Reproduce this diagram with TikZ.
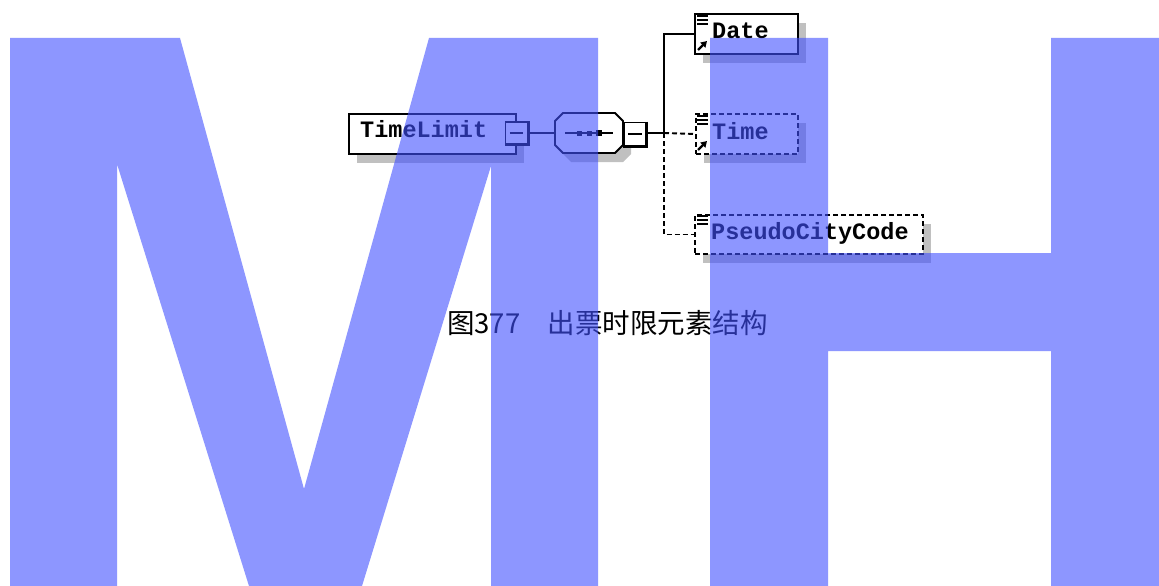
\documentclass[tikz,border=0pt]{standalone}
\usepackage{fontspec}
\newfontfamily\elemfont{Liberation Mono}
\newfontfamily\cjk{Noto Sans CJK SC}
\usetikzlibrary{shadows,calc,arrows.meta}
\definecolor{wm}{RGB}{65,80,255}
\definecolor{shd}{RGB}{192,192,192}
\begin{document}
\begin{tikzpicture}[x=1pt,y=-1pt,
  elem/.style={rectangle, draw=black, line width=2pt, fill=white, inner sep=0pt, anchor=north west,
    drop shadow={shadow xshift=8pt, shadow yshift=-9pt, fill=shd, opacity=1}},
  optelem/.style={elem, dash pattern=on 5pt off 3pt},
  minusbox/.style={rectangle, draw=black, line width=1.8pt, fill=white, inner sep=0pt, minimum width=22pt, minimum height=22pt},
  conn/.style={draw=black, line width=1.9pt},
  optconn/.style={conn, dash pattern=on 5pt off 3pt},
  lbl/.style={inner sep=0pt, anchor=base west, font=\elemfont\bfseries\fontsize{23.5}{24}\selectfont},
  linesicon/.pic={\draw[line width=1.7pt] (0,0)--(11,0) (0,4)--(11,4) (0,8)--(11,8);},
  arrowicon/.pic={\draw[line width=2.2pt,-{Triangle[length=6pt,width=7pt]}] (0,0)--(9,-9);},
  wmark/.style={fill=wm, fill opacity=0.6}
]
\useasboundingbox (0,0) rectangle (1159,586);
\fill[white] (0,0) rectangle (1159,586);

% root element
\node[elem, minimum width=167pt, minimum height=40pt] (tl) at (348,113) {};
\node[lbl] (tltext) at (360,137.5) {TimeLimit};
\node[minusbox] (mb1) at (516.5,133) {};
\draw[line width=2.8pt] (mb1.north east) -- (mb1.south east) -- (mb1.south west);
\draw[line width=1.6pt] ($(mb1.west)!0.22!(mb1.east)$) -- ($(mb1.west)!0.78!(mb1.east)$);

% sequence compositor
\fill[shd] (571,122) -- (623,122) -- (631,130) -- (631,154) -- (623,162) -- (571,162) -- (563,154) -- (563,130) -- cycle;
\node[minimum width=68pt, minimum height=40pt, inner sep=0pt] (seq) at (589,133) {};
\draw[line width=1.8pt, fill=white] (563,113) -- (615,113) -- (623,121) -- (623,145) -- (615,153) -- (563,153) -- (555,145) -- (555,121) -- cycle;
\draw[line width=1.6pt] (565,133) -- (613,133);
\fill[black] (576.5,130.5) rectangle (581.5,135.5);
\fill[black] (586.5,130.5) rectangle (591.5,135.5);
\fill[black] (596,130) rectangle (602,136);
\node[minusbox, minimum height=23pt] (mb2) at (635,134) {};
\draw[line width=3pt] (mb2.north east) -- (mb2.south east) -- (mb2.south west);
\draw[line width=1.6pt] ($(mb2.west)!0.22!(mb2.east)$) -- ($(mb2.west)!0.78!(mb2.east)$);

% child elements
\node[elem, minimum width=103pt, minimum height=40pt] (date) at (694,13) {};
\node[lbl] (datetext) at (712,38.5) {Date};
\pic at (697,16) {linesicon};
\pic at (698,50) {arrowicon};

\node[optelem, minimum width=102pt, minimum height=40pt] (time) at (695,113) {};
\node[lbl] (timetext) at (712,139) {Time};
\pic at (697,116) {linesicon};
\pic at (698,150) {arrowicon};

\node[optelem, minimum width=228pt, minimum height=39pt] (pseudo) at (694,214) {};
\node[lbl] (pseudotext) at (711,239.5) {PseudoCityCode};
\pic at (697,216) {linesicon};

% connectors
\coordinate (bus) at (664,133);
\draw[conn] (mb1.east) -- (mb1.east -| seq.west);
\draw[conn] (mb2.east |- bus) -- (bus);
\draw[conn] (bus) |- (date.west);
\draw[optconn] (bus) -- (time.west);
\draw[optconn] (bus) |- (pseudo.west);

% caption
\node[inner sep=0pt, anchor=base west, font=\cjk\fontsize{27.5}{30}\selectfont] (caption) at (447,333) {图377　出票时限元素结构};

% watermark
\fill[wmark] (10,38) -- (180,38) -- (304,489) -- (429,38) -- (598,38) -- (598,586) -- (491,586) -- (491,166) -- (362,586) -- (249,586) -- (117,164) -- (117,586) -- (10,586) -- cycle;
\fill[wmark] (710,38) -- (828,38) -- (828,253) -- (1051,253) -- (1051,38) -- (1159,38) -- (1159,586) -- (1051,586) -- (1051,351) -- (828,351) -- (828,586) -- (710,586) -- cycle;
\end{tikzpicture}
\end{document}
